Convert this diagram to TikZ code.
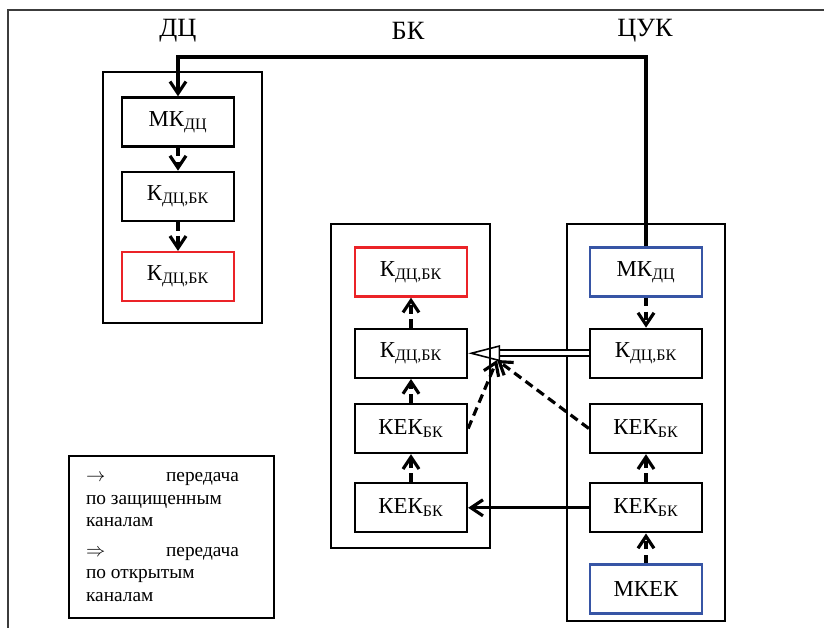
\documentclass[tikz,border=0pt]{standalone}
\usepackage{fontspec}
\setmainfont{Liberation Serif}
\usepackage{tikz}
\usetikzlibrary{positioning, arrows.meta}
\definecolor{rojoCaja}{RGB}{235, 35, 40}
\definecolor{azulCaja}{RGB}{55, 85, 165}
\definecolor{marcoGris}{RGB}{60, 60, 60}

\begin{document}
\begin{tikzpicture}[
    x=0.02cm, y=-0.02cm,
    caja/.style={
        rectangle,
        draw=black,
        line width=1.3pt,
        minimum width=2.24cm,
        minimum height=0.98cm,
        inner sep=0pt,
        font=\fontsize{13}{15}\selectfont
    },
    cajaroja/.style={
        caja,
        draw=rojoCaja
    },
    cajaazul/.style={
        caja,
        draw=azulCaja
    },
    zona/.style={
        draw=black,
        line width=1.3pt
    },
    titulo/.style={
        font=\fontsize{15}{17}\selectfont
    },
    leyenda/.style={
        rectangle,
        draw=black,
        line width=1.3pt,
        text width=3.42cm,
        inner xsep=0.34cm,
        minimum height=3.24cm,
        align=flush left,
        font=\fontsize{11}{12.8}\selectfont
    },
    flecha/.style={
        -{Straight Barb[length=2.4mm, width=3.2mm, line width=1.8pt]},
        line width=1.8pt
    },
    flechapunteada/.style={
        flecha,
        dash pattern=on 5pt off 3pt
    },
    flechadoble/.style={
        double,
        double distance=2.2pt,
        line width=1.1pt,
        -{Triangle[open, length=6.4mm, width=3.2mm, line width=0.9pt]}
    }
]
\useasboundingbox (0,0) rectangle (824,628);
\draw[marcoGris, line width=1pt] (8,628) -- (8,10) -- (824,10);

\node[titulo] (tdc) at (178,31) {ДЦ};
\node[titulo] (tbk) at (408,31) {БК};
\node[titulo] (tcuk) at (645,31) {ЦУК};

\draw[zona] (103,72) rectangle (262,323);
\draw[zona] (331,224) rectangle (490,548);
\draw[zona] (567,224) rectangle (725,621);

\node[caja] (dcmk) at (178,122) {МК\textsubscript{ДЦ}};
\node[caja, below=0.46cm of dcmk] (dck) {К\textsubscript{ДЦ,БК}};
\node[cajaroja, below=0.58cm of dck] (dckr) {К\textsubscript{ДЦ,БК}};

\node[cajaroja] (bkkr) at (411,272) {К\textsubscript{ДЦ,БК}};
\node[caja, below=0.6cm of bkkr] (bkk) {К\textsubscript{ДЦ,БК}};
\node[caja, below=0.48cm of bkk] (bkkek) {КЕК\textsubscript{БК}};
\node[caja, below=0.56cm of bkkek] (bkkek2) {КЕК\textsubscript{БК}};

\node[cajaazul] (cmk) at (646,272) {МК\textsubscript{ДЦ}};
\node[caja, below=0.6cm of cmk] (ck) {К\textsubscript{ДЦ,БК}};
\node[caja, below=0.48cm of ck] (ckek) {КЕК\textsubscript{БК}};
\node[caja, below=0.56cm of ckek] (ckek2) {КЕК\textsubscript{БК}};
\node[cajaazul, below=0.6cm of ckek2] (cmkek) {МКЕК};

\node[leyenda, anchor=north west] (ley) at (68,455) {\makebox[1.6cm][l]{$\rightarrow$}передача\\по защищенным\\каналам\\[4pt]\makebox[1.6cm][l]{$\Rightarrow$}передача\\по открытым\\каналам};

\coordinate (arriba) at (0,57);
\coordinate (cruce) at (497,360);

\draw[flecha] (cmk.north) -- (cmk.north |- arriba) -| (dcmk.north);
\draw[flechapunteada] (dcmk) -- (dck);
\draw[flechapunteada] (dck) -- (dckr);
\draw[flechapunteada] (bkk) -- (bkkr);
\draw[flechapunteada] (bkkek) -- (bkk);
\draw[flechapunteada] (bkkek2) -- (bkkek);
\draw[flechapunteada] (cmk) -- (ck);
\draw[flechapunteada] (ckek2) -- (ckek);
\draw[flechapunteada] (cmkek) -- (ckek2);
\draw[flechadoble] (ck) -- (bkk);
\draw[flecha] (ckek2) -- (bkkek2);
\draw[flechapunteada] (bkkek.east) -- (cruce);
\draw[flechapunteada] (ckek.west) -- (cruce);

\end{tikzpicture}
\end{document}
